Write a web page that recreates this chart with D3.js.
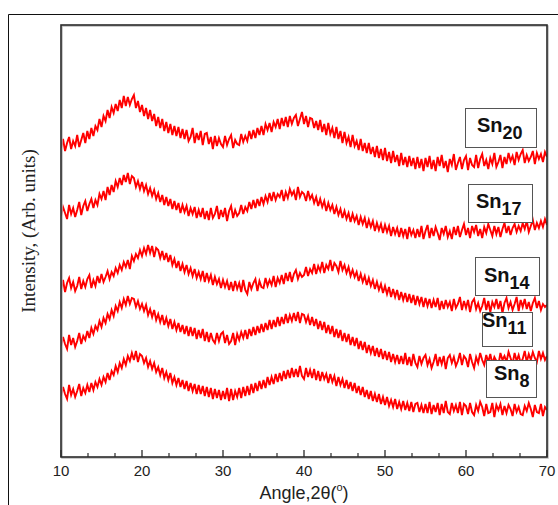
<!DOCTYPE html>
<html><head><meta charset="utf-8">
<script src="https://cdn.jsdelivr.net/npm/d3@7"></script>
<style>body{margin:0;background:#fff}svg{display:block}</style>
</head><body>
<script>
// ---- data ----
const angleStart = 10, angleStep = 0.25, angleCount = 241; // scan grid 10..70 deg
const xTicks = [10, 20, 30, 40, 50, 60, 70];
const sampleNames = ["Sn", "Sn", "Sn", "Sn", "Sn"];
const sampleSubs = ["20", "17", "14", "11", "8"];

const sn20 = [
309,318,306,314, 320,308,316,311, 322,310,317,324, 314,326,318,329, 321,331,327,338,
330,341,336,347, 339,350,344,353, 346,357,349,361, 351,360,352,358, 362,349,356,345,
352,341,349,338, 347,336,343,331, 340,329,338,326, 335,324,333,322, 331,321,330,319,
328,318,327,316, 320,329,314,324, 317,326,312,323, 324,313,320,308, 321,311,319,313,
310,321,312,318, 322,309,317,313, 312,323,315,321, 316,326,318,327, 319,329,322,331,
322,333,327,334, 325,335,330,338, 328,339,331,340, 330,341,333,339, 342,331,338,345,
333,341,330,339, 338,329,336,327, 337,325,333,322, 334,323,329,319, 330,318,326,314,
325,314,320,310, 322,311,316,307, 318,306,314,304, 314,303,310,300, 311,299,308,297,
309,296,305,294, 306,295,302,291, 304,292,300,290, 301,291,299,288, 300,289,298,286,
299,290,301,288, 297,286,300,291, 302,289,296,285, 298,292,303,287, 294,300,288,297,
301,287,299,292, 290,302,289,298, 303,291,297,288, 299,293,304,290, 295,302,289,300,
293,304,296,301, 292,305,297,303, 307,294,302,296, 300,306,293,304, 298,303,295,305,
300];
const sn17 = [
241,250,244,238, 252,243,249,240, 247,255,242,251, 256,246,253,258, 249,257,252,263,
258,266,257,270, 262,272,265,276, 270,279,272,282, 275,284,273,281, 279,270,276,268,
275,266,272,263, 269,261,267,258, 264,255,262,252, 260,251,258,248, 256,247,254,244,
252,245,251,241, 249,243,250,239, 247,240,249,238, 246,237,249,239, 243,251,238,247,
240,249,236,246, 251,239,247,241, 244,252,243,250, 246,255,248,257, 249,258,251,260,
253,261,255,264, 256,265,257,263, 260,267,256,265, 259,268,262,266, 257,270,260,265,
263,256,266,258, 262,254,260,251, 258,250,256,246, 254,247,252,243, 250,242,248,239,
246,238,244,235, 243,236,241,232, 240,233,239,229, 237,230,236,226, 234,227,233,224,
232,225,231,221, 230,223,229,220, 229,221,228,218, 230,222,227,219, 228,220,231,218,
226,232,219,229, 221,230,224,217, 229,223,231,220, 226,218,230,222, 231,220,227,233,
222,229,219,231, 225,232,221,228, 219,230,224,233, 227,221,231,223, 230,220,228,234,
224,231,222,229, 233,225,231,226, 234,228,236,225, 231,237,227,234, 229,236,230,238,
232];
const sn14 = [
168,177,165,174, 179,169,175,166, 171,180,168,176, 170,178,182,169, 177,171,181,174,
183,175,180,186, 178,185,181,189, 184,192,187,195, 190,197,188,201, 196,203,199,207,
201,209,203,212, 204,211,200,209, 207,199,206,197, 204,195,202,192, 198,189,196,186,
193,185,192,183, 189,181,188,179, 185,178,186,175, 184,176,182,172, 180,173,178,169,
177,170,176,167, 175,166,176,168, 174,165,177,167, 163,175,168,174, 178,166,176,170,
169,179,171,177, 172,181,170,179, 174,182,173,184, 176,185,175,183, 187,178,184,180,
182,190,181,188, 184,193,183,191, 186,195,184,192, 188,197,186,194, 191,185,196,187,
192,184,190,181, 187,180,185,176, 183,175,181,172, 179,171,177,168, 175,167,173,164,
171,163,170,160, 168,160,167,157, 165,157,164,155, 163,154,162,152, 161,153,160,150,
159,151,158,149, 157,150,159,147, 156,148,157,150, 155,146,158,149, 153,160,147,156,
149,157,145,155, 158,148,154,146, 151,159,147,156, 145,155,150,158, 148,156,144,154,
159,149,155,147, 153,160,146,157, 150,158,148,155, 146,154,159,149, 156,147,153,150,
152];
const sn11 = [
111,120,113,108, 122,112,119,110, 116,124,113,121, 117,126,119,129, 123,131,127,136,
130,139,134,143, 138,147,141,151, 146,155,149,158, 152,161,153,159, 158,150,156,148,
153,146,152,142, 148,140,147,137, 143,135,142,132, 139,131,138,128, 135,127,134,125,
132,123,131,121, 130,121,129,118, 127,119,128,116, 125,115,124,117, 114,124,116,123,
125,114,122,113, 116,124,112,123, 117,125,119,127, 118,128,121,130, 122,131,124,133,
125,134,127,137, 128,137,130,140, 131,140,133,143, 134,142,136,144, 136,145,134,143,
142,135,141,132, 140,131,138,128, 136,127,135,124, 132,123,131,120, 128,119,127,116,
124,115,123,112, 120,111,119,108, 116,107,115,104, 112,104,111,101, 109,100,108,98,
106,97,105,95, 103,95,102,93, 101,93,104,92, 100,91,103,94, 90,101,93,99,
102,92,98,89, 95,103,91,100, 93,101,88,99, 102,94,100,91, 96,104,92,101,
98,90,103,95, 89,100,94,104, 97,92,102,95, 103,93,100,96, 92,104,97,101,
95,105,99,93, 104,96,102,94, 98,106,95,103, 97,105,99,95, 106,98,104,97,
101];
const sn8 = [
61,70,63,58, 72,62,68,60, 66,73,61,69, 64,72,65,74, 67,75,70,78,
72,80,75,84, 77,86,82,91, 85,94,89,98, 92,101,96,104, 97,106,95,103,
101,94,99,90, 96,88,94,85, 90,82,89,79, 85,77,84,74, 80,72,79,70,
77,68,76,66, 74,66,73,63, 72,63,71,61, 70,60,69,58, 68,59,67,57,
66,58,69,56, 68,57,66,60, 69,59,70,61, 71,62,73,64, 74,66,76,68,
77,69,80,72, 80,73,83,75, 84,76,86,78, 87,79,89,80, 88,80,91,81,
78,89,80,87, 79,88,77,86, 76,85,78,83, 74,83,75,81, 71,80,72,78,
69,77,68,75, 66,74,64,71, 62,70,60,67, 58,66,56,63, 55,63,53,60,
52,60,51,57, 50,58,48,55, 48,56,47,54, 46,55,45,53, 54,45,52,44,
53,44,55,43, 52,45,54,42, 53,44,56,45, 43,54,46,52, 44,55,42,53,
51,43,54,45, 42,52,46,55, 50,41,53,44, 45,54,40,52, 47,53,42,51,
44,52,48,41, 53,45,50,43, 42,51,46,54, 48,40,52,45, 44,53,41,50,
47];
const seriesValues = [sn20, sn17, sn14, sn11, sn8];

// ---- layout ----
const W = 558, H = 505;
const M = {left: 61, right: 547, top: 25, bottom: 457};
const labelBoxes = [
  {x: 465, y: 108, w: 71, h: 39, tx: 477, ty: 132},
  {x: 468, y: 184, w: 64, h: 38, tx: 476, ty: 208},
  {x: 475, y: 257, w: 64, h: 38, tx: 484, ty: 282},
  {x: 482, y: 312, w: 50, h: 34, tx: 482, ty: 327},
  {x: 486, y: 360, w: 50, h: 37, tx: 494, ty: 380}
];

const svg = d3.select("body").append("svg").attr("width", W).attr("height", H);
svg.append("rect").attr("width", W).attr("height", H).attr("fill", "#fff");

// outer frame
svg.append("path").attr("d", `M8.5,${H} V14.5 H${W}`).attr("fill", "none").attr("stroke", "#111").attr("stroke-width", 1);

const x = d3.scaleLinear().domain([10, 70]).range([M.left, M.right]);
const y = d3.scaleLinear().domain([0, 432]).range([M.bottom, M.top]);

const angles = d3.range(angleCount).map(i => angleStart + i * angleStep);

const line = d3.line().x(d => x(d[0])).y(d => y(d[1]));
svg.append("clipPath").attr("id", "clp").append("rect")
  .attr("x", M.left).attr("y", M.top).attr("width", M.right - M.left).attr("height", M.bottom - M.top);

seriesValues.forEach(vals => {
  const pts = vals.map((v, i) => [angles[i], v]);
  svg.append("path").datum(pts).attr("d", line)
    .attr("clip-path", "url(#clp)")
    .attr("fill", "none").attr("stroke", "#ff0000").attr("stroke-width", 1.9)
    .attr("stroke-linejoin", "miter");
});

// plot frame (with soft shadow)
svg.append("rect").attr("x", M.left + 1).attr("y", M.top + 1)
  .attr("width", M.right - M.left).attr("height", M.bottom - M.top)
  .attr("fill", "none").attr("stroke", "#bbb").attr("stroke-width", 1.5);
svg.append("rect").attr("x", M.left).attr("y", M.top)
  .attr("width", M.right - M.left).attr("height", M.bottom - M.top)
  .attr("fill", "none").attr("stroke", "#2a2a2a").attr("stroke-width", 1.6);

// x axis: inward ticks
const minorTicks = d3.range(10, 70.001, 10 / 3).filter(t => Math.abs(t / 10 - Math.round(t / 10)) > 0.01);
const axisG = svg.append("g").attr("transform", `translate(0,${M.bottom})`);
axisG.selectAll("line.maj").data(xTicks).join("line").attr("class", "maj")
  .attr("x1", d => x(d)).attr("x2", d => x(d)).attr("y1", 0).attr("y2", -7)
  .attr("stroke", "#2a2a2a").attr("stroke-width", 1.3);
axisG.selectAll("line.min").data(minorTicks).join("line").attr("class", "min")
  .attr("x1", d => x(d)).attr("x2", d => x(d)).attr("y1", 0).attr("y2", -4)
  .attr("stroke", "#2a2a2a").attr("stroke-width", 1.2);
axisG.selectAll("text").data(xTicks).join("text")
  .attr("x", d => x(d)).attr("y", 19)
  .attr("text-anchor", "middle")
  .attr("font-family", "Liberation Sans, Arial, sans-serif").attr("font-size", 15)
  .attr("fill", "#222").text(d => d);

// x title
const xt = svg.append("text").attr("x", 304).attr("y", 499).attr("text-anchor", "middle")
  .attr("font-family", "Liberation Sans, Arial, sans-serif").attr("font-size", 18).attr("fill", "#222");
xt.append("tspan").text("Angle,2θ(");
xt.append("tspan").attr("font-size", 11).attr("dy", -8).text("o");
xt.append("tspan").attr("dy", 8).text(")");

// y title
svg.append("text").attr("transform", "translate(35,231) rotate(-90)")
  .attr("text-anchor", "middle")
  .attr("font-family", "Liberation Serif, 'Times New Roman', serif").attr("font-size", 19)
  .attr("fill", "#222").text("Intensity, (Arb. units)");

// sample labels
labelBoxes.forEach((b, i) => {
  svg.append("rect").attr("x", b.x + 0.5).attr("y", b.y + 0.5).attr("width", b.w).attr("height", b.h)
    .attr("fill", "#fff").attr("stroke", "#555").attr("stroke-width", 1);
  const t = svg.append("text").attr("x", b.tx).attr("y", b.ty)
    .attr("font-family", "Liberation Sans, Arial, sans-serif").attr("font-weight", "bold")
    .attr("font-size", 20).attr("fill", "#111");
  t.append("tspan").text(sampleNames[i]);
  t.append("tspan").attr("font-size", 18).attr("dy", 7).text(sampleSubs[i]);
});
</script>
</body></html>
